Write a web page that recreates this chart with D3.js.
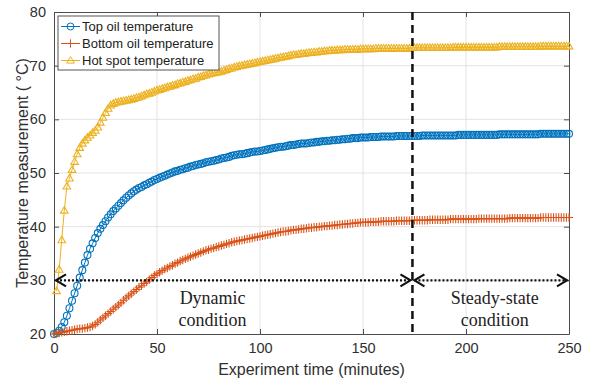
<!DOCTYPE html>
<html lang="en">
<head>
<meta charset="utf-8">
<title>Oil temperature</title>
<script src="https://d3js.org/d3.v7.min.js"></script>
<style>
  body { margin: 0; background: #fff; }
  text { font-family: "Liberation Sans", Arial, sans-serif; }
  .note { font-family: "Liberation Serif", "Times New Roman", serif; }
</style>
</head>
<body>
<script>

// time in minutes
var times = [0,1.25,2.5,3.75,5,6.25,7.5,8.75,10,
  11.25,12.5,13.75,15,16.25,17.5,18.75,20,21.25,22.5,23.75,25,26.25,27.5,28.75,30,
  31.25,32.5,33.75,35,36.25,37.5,38.75,40,41.25,42.5,43.75,45,46.25,47.5,48.75,50,
  51.25,52.5,53.75,55,56.25,57.5,58.75,60,61.25,62.5,63.75,65,66.25,67.5,68.75,70,
  71.25,72.5,73.75,75,76.25,77.5,78.75,80,81.25,82.5,83.75,85,86.25,87.5,88.75,90,
  91.25,92.5,93.75,95,96.25,97.5,98.75,100,101.25,102.5,103.75,105,106.25,107.5,108.75,110,
  111.25,112.5,113.75,115,116.25,117.5,118.75,120,121.25,122.5,123.75,125,126.25,127.5,128.75,130,
  131.25,132.5,133.75,135,136.25,137.5,138.75,140,141.25,142.5,143.75,145,146.25,147.5,148.75,150,
  151.25,152.5,153.75,155,156.25,157.5,158.75,160,161.25,162.5,163.75,165,166.25,167.5,168.75,170,
  171.25,172.5,173.75,175,176.25,177.5,178.75,180,181.25,182.5,183.75,185,186.25,187.5,188.75,190,
  191.25,192.5,193.75,195,196.25,197.5,198.75,200,201.25,202.5,203.75,205,206.25,207.5,208.75,210,
  211.25,212.5,213.75,215,216.25,217.5,218.75,220,221.25,222.5,223.75,225,226.25,227.5,228.75,230,
  231.25,232.5,233.75,235,236.25,237.5,238.75,240,241.25,242.5,243.75,245,246.25,247.5,248.75,250];

var topOil = [20.0,20.2,20.6,21.3,22.2,23.4,24.8,26.2,27.6,
  29.0,30.5,31.9,33.3,34.7,35.9,36.9,37.9,38.8,39.6,40.3,41.0,41.7,42.3,42.9,43.4,
  43.9,44.4,44.9,45.4,45.8,46.2,46.6,46.9, 47.2,47.4,47.7,47.9,48.2,48.4,48.7,48.9,
  49.1,49.3,49.5,49.7,49.9,50.1,50.3,50.4, 50.6,50.7,50.9,51.0,51.2,51.3,51.5,51.6,
  51.7,51.8,52.0,52.1,52.2,52.3,52.4,52.5, 52.7,52.8,52.9,53.0,53.2,53.3,53.4,53.5,
  53.5,53.6,53.7,53.8,53.9,54.0,54.0,54.1, 54.2,54.3,54.4,54.5,54.6,54.7,54.8,54.9,
  54.9,55.0,55.1,55.2,55.2,55.3,55.4,55.5, 55.5,55.5,55.6,55.7,55.7,55.8,55.8,55.9,
  55.9,56.0,56.0,56.1,56.1,56.2,56.2,56.3, 56.3,56.4,56.4,56.5,56.5,56.5,56.6,56.6,
  56.6,56.6,56.7,56.7,56.7,56.7,56.8,56.8, 56.8,56.8,56.8,56.8,56.9,56.9,56.9,56.9,
  56.9,56.9,56.9,56.9,56.9,56.9,57.0,57.0, 57.0,57.0,57.0,57.0,57.0,57.0,57.0,57.0,
  57.0,57.0,57.0,57.0,57.1,57.1,57.1,57.1, 57.1,57.1,57.1,57.1,57.1,57.1,57.1,57.1,
  57.1,57.1,57.1,57.1,57.2,57.2,57.2,57.2, 57.2,57.2,57.2,57.2,57.2,57.2,57.2,57.2,
  57.2,57.2,57.2,57.2,57.3,57.3,57.3,57.3, 57.3,57.3,57.3,57.3,57.3,57.3,57.3,57.3];

var bottomOil = [20.0,20.1,20.2,20.3,20.4,20.5,20.6,20.7,20.8,
  20.9,21.0,21.0,21.1,21.2,21.3,21.5,21.8,22.2,22.6,23.0,23.4,23.8,24.2,24.6,25.0,
  25.4,25.8,26.3,26.7,27.1,27.5,27.9,28.3, 28.7,29.0,29.4,29.7,30.1,30.5,30.9,31.2,
  31.5,31.8,32.1,32.3,32.6,32.8,33.1,33.3, 33.6,33.8,34.0,34.2,34.4,34.6,34.8,35.0,
  35.2,35.4,35.6,35.7,35.9,36.0,36.2,36.3, 36.5,36.6,36.8,36.9,37.1,37.2,37.3,37.4,
  37.5,37.6,37.7,37.8,37.9,38.0,38.1,38.2, 38.3,38.4,38.5,38.6,38.7,38.8,38.9,39.0,
  39.1,39.1,39.2,39.3,39.4,39.4,39.5,39.6, 39.6,39.7,39.8,39.8,39.9,39.9,40.0,40.0,
  40.1,40.1,40.2,40.2,40.3,40.3,40.4,40.4, 40.5,40.5,40.6,40.6,40.7,40.7,40.8,40.8,
  40.8,40.8,40.9,40.9,40.9,40.9,41.0,41.0, 41.0,41.0,41.0,41.0,41.1,41.1,41.1,41.1,
  41.1,41.1,41.2,41.2,41.2,41.2,41.2,41.2, 41.2,41.3,41.3,41.3,41.3,41.3,41.3,41.3,
  41.3,41.4,41.4,41.4,41.4,41.4,41.4,41.4, 41.4,41.4,41.4,41.4,41.5,41.5,41.5,41.5,
  41.5,41.5,41.5,41.5,41.5,41.5,41.5,41.5, 41.6,41.6,41.6,41.6,41.6,41.6,41.6,41.6,
  41.6,41.6,41.6,41.6,41.7,41.7,41.7,41.7, 41.7,41.7,41.7,41.7,41.7,41.7,41.7,41.7];

var hotSpot = [null,28.0,32.0,37.5,43.0,47.5,49.0,50.6,52.1,
  53.5,54.7,55.5,56.1,56.6,57.0,57.5,57.9,58.5,59.4,60.3,61.2,62.0,62.6,62.9,63.1,
  63.2,63.3,63.4,63.5,63.6,63.7,63.8,64.0, 64.1,64.3,64.5,64.7,64.8,65.0,65.2,65.4,
  65.5,65.7,65.8,66.0,66.1,66.3,66.4,66.6, 66.7,66.9,67.0,67.2,67.3,67.5,67.6,67.8,
  67.9,68.1,68.2,68.4,68.5,68.6,68.7,68.8, 68.9,69.1,69.2,69.4,69.5,69.7,69.8,69.9,
  70.0,70.1,70.2,70.3,70.4,70.5,70.6,70.7, 70.8,70.9,71.0,71.1,71.2,71.3,71.4,71.5,
  71.6,71.7,71.8,71.9,72.0,72.0,72.1,72.2, 72.2,72.3,72.4,72.4,72.5,72.5,72.6,72.6,
  72.7,72.7,72.8,72.8,72.8,72.9,72.9,72.9, 73.0,73.0,73.0,73.0,73.0,73.0,73.1,73.1,
  73.1,73.1,73.1,73.1,73.2,73.2,73.2,73.2, 73.2,73.2,73.2,73.2,73.2,73.2,73.2,73.2,
  73.2,73.2,73.3,73.3,73.3,73.3,73.3,73.3, 73.3,73.3,73.3,73.3,73.3,73.3,73.3,73.3,
  73.3,73.3,73.4,73.4,73.4,73.4,73.4,73.4, 73.4,73.4,73.4,73.4,73.4,73.4,73.4,73.4,
  73.4,73.4,73.4,73.4,73.5,73.5,73.5,73.5, 73.5,73.5,73.5,73.5,73.5,73.5,73.5,73.5,
  73.5,73.5,73.5,73.5,73.6,73.6,73.6,73.6, 73.6,73.6,73.6,73.6,73.6,73.6,73.6,73.6];

var seriesNames = ["Top oil temperature", "Bottom oil temperature", "Hot spot temperature"];
var xTicks = [0, 50, 100, 150, 200, 250];
var yTicks = [20, 30, 40, 50, 60, 70, 80];
var splitTime = 174;     // end of dynamic condition
var arrowLevel = 30;     // arrows drawn at 30 degC

var width = 592, height = 380;
var margin = {top: 12, right: 23, bottom: 46, left: 54};

var svg = d3.select("body").append("svg")
    .attr("width", width)
    .attr("height", height);

var x = d3.scaleLinear().domain([0, 250]).range([margin.left, width - margin.right]);
var y = d3.scaleLinear().domain([20, 80]).range([height - margin.bottom, margin.top]);

var axisColor = "#4d4d4d";

// grid
svg.append("g").selectAll("line")
    .data(xTicks.slice(1, -1)).join("line")
    .attr("x1", d => x(d)).attr("x2", d => x(d))
    .attr("y1", y(20)).attr("y2", y(80))
    .attr("stroke", "#e3e3e3").attr("stroke-width", 1);
svg.append("g").selectAll("line")
    .data(yTicks.slice(1, -1)).join("line")
    .attr("x1", x(0)).attr("x2", x(250))
    .attr("y1", d => y(d)).attr("y2", d => y(d))
    .attr("stroke", "#e3e3e3").attr("stroke-width", 1);

// axes (ticks inward, box on)
function styleAxis(g) {
  g.select(".domain").attr("stroke", axisColor);
  g.selectAll(".tick line").attr("stroke", axisColor);
  g.selectAll(".tick text").attr("fill", "#303030")
    .style("font-family", "'Liberation Sans', Arial, sans-serif")
    .style("font-size", "14.5px");
}
svg.append("g")
    .attr("transform", `translate(0,${y(20)})`)
    .call(d3.axisBottom(x).tickValues(xTicks).tickSizeInner(-5).tickSizeOuter(0).tickPadding(9))
    .call(styleAxis);
svg.append("g")
    .attr("transform", `translate(${x(0)},0)`)
    .call(d3.axisLeft(y).tickValues(yTicks).tickSizeInner(-5).tickSizeOuter(0).tickPadding(8))
    .call(styleAxis);
svg.append("g")
    .attr("transform", `translate(0,${y(80)})`)
    .call(d3.axisTop(x).tickValues(xTicks).tickSizeInner(-5).tickSizeOuter(0).tickFormat(""))
    .call(styleAxis);
svg.append("g")
    .attr("transform", `translate(${x(250)},0)`)
    .call(d3.axisRight(y).tickValues(yTicks).tickSizeInner(-5).tickSizeOuter(0).tickFormat(""))
    .call(styleAxis);

// axis labels
svg.append("text")
    .attr("x", (x(0) + x(250)) / 2).attr("y", 375)
    .attr("text-anchor", "middle")
    .attr("fill", "#303030")
    .style("font-size", "16px")
    .text("Experiment time (minutes)");
svg.append("text")
    .attr("transform", `translate(28,${(y(20) + y(80)) / 2}) rotate(-90)`)
    .attr("text-anchor", "middle")
    .attr("fill", "#303030")
    .style("font-size", "16px")
    .text("Temperature measurement ( °C)");

// series
var colors = ["#0072BD", "#D95319", "#EDB120"];
var data = [topOil, bottomOil, hotSpot];

var markerPath = [
  d3.symbol().type(d3.symbolCircle).size(38)(),
  "M-4.2,0H4.2M0,-4.2V4.2",
  "M0,-4L3.8,2.6L-3.8,2.6Z"
];

data.forEach(function(vals, i) {
  var pts = times.map((t, j) => [t, vals[j]]).filter(p => p[1] != null);
  var line = d3.line().x(p => x(p[0])).y(p => y(p[1]));
  svg.append("path")
      .datum(pts)
      .attr("d", line)
      .attr("fill", "none")
      .attr("stroke", colors[i])
      .attr("stroke-width", 1);
  svg.append("g").selectAll("path")
      .data(pts).join("path")
      .attr("transform", p => `translate(${x(p[0])},${y(p[1])})`)
      .attr("d", markerPath[i])
      .attr("fill", "none")
      .attr("stroke", colors[i])
      .attr("stroke-width", 1.1);
});

// dashed split line
svg.append("line")
    .attr("x1", x(splitTime)).attr("x2", x(splitTime))
    .attr("y1", y(80)).attr("y2", y(20) + 2)
    .attr("stroke", "#111").attr("stroke-width", 2.5)
    .attr("stroke-dasharray", "8,5");

// dotted double arrows
function arrow(t0, t1) {
  var ay = y(arrowLevel), xa = x(t0) + 2, xb = x(t1) - 2;
  svg.append("line")
      .attr("x1", xa).attr("x2", xb).attr("y1", ay).attr("y2", ay)
      .attr("stroke", "#111").attr("stroke-width", 2.2)
      .attr("stroke-dasharray", "2,2");
  svg.append("path")
      .attr("d", `M${xa + 10},${ay - 6}L${xa},${ay}L${xa + 10},${ay + 6}`)
      .attr("fill", "none").attr("stroke", "#111").attr("stroke-width", 2.2);
  svg.append("path")
      .attr("d", `M${xb - 10},${ay - 6}L${xb},${ay}L${xb - 10},${ay + 6}`)
      .attr("fill", "none").attr("stroke", "#111").attr("stroke-width", 2.2);
}
arrow(0, splitTime);
arrow(splitTime, 250);

// condition notes
var notes = [
  {t: 77, lines: ["Dynamic", "condition"]},
  {t: 214, lines: ["Steady-state", "condition"]}
];
notes.forEach(function(n) {
  n.lines.forEach(function(s, k) {
    svg.append("text")
        .attr("class", "note")
        .attr("x", x(n.t)).attr("y", 304 + k * 22)
        .attr("text-anchor", "middle")
        .attr("fill", "#222")
        .style("font-size", "18px")
        .text(s);
  });
});

// legend
var leg = svg.append("g").attr("transform", "translate(58,16)");
leg.append("rect")
    .attr("width", 161).attr("height", 54)
    .attr("fill", "#fff").attr("stroke", "#555").attr("stroke-width", 1);
seriesNames.forEach(function(name, i) {
  var ry = 10.5 + i * 17;
  leg.append("line")
      .attr("x1", 3).attr("x2", 22).attr("y1", ry).attr("y2", ry)
      .attr("stroke", colors[i]).attr("stroke-width", 1);
  leg.append("path")
      .attr("transform", `translate(12.5,${ry})`)
      .attr("d", markerPath[i])
      .attr("fill", "none").attr("stroke", colors[i]).attr("stroke-width", 1);
  leg.append("text")
      .attr("x", 24).attr("y", ry + 4.5)
      .attr("fill", "#222")
      .style("font-size", "13px")
      .text(name);
});

</script>
</body>
</html>
